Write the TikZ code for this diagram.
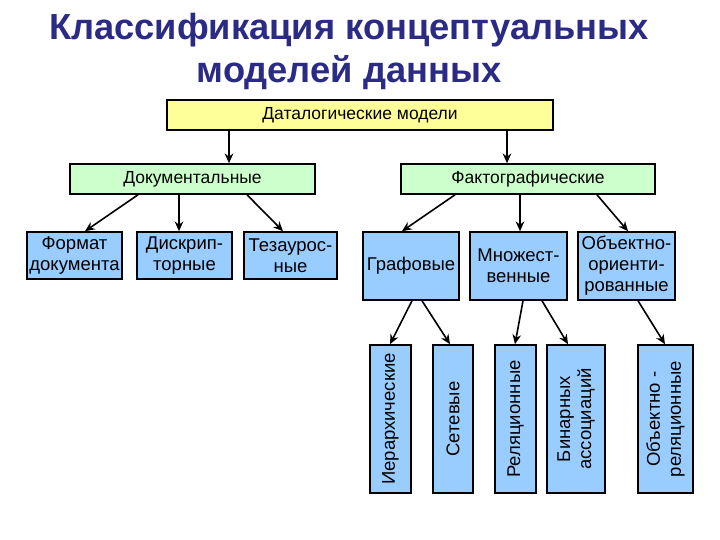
\documentclass[tikz,border=0pt]{standalone}
\usepackage{fontspec}
\setmainfont{Liberation Sans}
\usetikzlibrary{arrows.meta,positioning}
\definecolor{rootyellow}{HTML}{FFFF99}
\definecolor{groupgreen}{HTML}{CCFFCC}
\definecolor{leafblue}{HTML}{99CCFF}
\definecolor{titleblue}{HTML}{2B2B85}
\tikzset{
  box/.style       = {draw=black, line width=1.6pt, inner sep=1pt, align=center},
  rootbox/.style   = {box, fill=rootyellow, font=\fontsize{17.5}{20}\selectfont},
  groupbox/.style  = {box, fill=groupgreen, font=\fontsize{17.5}{20}\selectfont},
  leafbox/.style   = {box, fill=leafblue, font=\fontsize{18.5}{21}\selectfont},
  vbox/.style      = {leafbox, rotate=90},
  sig/.style       = {-{Stealth[length=3.4mm,width=3mm]}, line width=1.6pt},
}

\begin{document}
\begin{tikzpicture}[x=1pt, y=1pt]
  \useasboundingbox (0,0) rectangle (720,-540);
  % title
  \node[align=center, text=titleblue, font=\bfseries\fontsize{36.3}{43}\selectfont] (title) at (349,-51)
    {Классификация концептуальных\\моделей данных};
  % levels
  \node[rootbox, minimum width=386, minimum height=30] (datal) at (360,-115) {Даталогические модели};
  \node[groupbox, minimum width=245, minimum height=30] (doc) at (192.5,-179) {Документальные};
  \node[groupbox, minimum width=254, minimum height=30] (fact) at (528,-179) {Фактографические};
  \node[leafbox, minimum width=95, minimum height=47] (fmt) at (74.5,-255.5) {Формат\\документа};
  \node[leafbox, minimum width=95, minimum height=47] (descr) at (184.5,-255.5) {Дискрип-\\торные};
  \node[leafbox, minimum width=93, minimum height=47] (thes) at (290.5,-255.5) {Тезаурос-\\ные};
  \node[leafbox, minimum width=96, minimum height=68] (graph) at (411,-266) {Графовые};
  \node[leafbox, minimum width=97, minimum height=68] (mult) at (518.5,-266) {Множест-\\венные};
  \node[leafbox, minimum width=97, minimum height=68] (oo) at (626.5,-266) {Объектно-\\ориенти-\\рованные};
  % vertical boxes, east = top of page
  \node[vbox, minimum width=148, minimum height=41] (hier) at (390.5,-419) {Иерархические};
  \node[vbox, minimum width=148, minimum height=40] (net) at (453,-419) {Сетевые};
  \node[vbox, minimum width=148, minimum height=41] (rel) at (515.5,-419) {Реляционные};
  \node[vbox, minimum width=148, minimum height=58] (bin) at (576,-419) {Бинарных\\ассоциаций};
  \node[vbox, minimum width=148, minimum height=55] (orel) at (665.5,-419) {Объектно -\\реляционные};
  % connectors
  \draw[sig] ([xshift=-131pt]datal.south) -- ([xshift=36.5pt]doc.north);
  \draw[sig] ([xshift=147pt]datal.south) -- ([xshift=-21pt]fact.north);
  \draw[sig] ([xshift=-54.5pt]doc.south) -- ([xshift=10.5pt]fmt.north);
  \draw[sig] ([xshift=-13.5pt]doc.south) -- ([xshift=-5.5pt]descr.north);
  \draw[sig] ([xshift=54.5pt]doc.south) -- ([xshift=-7.5pt]thes.north);
  \draw[sig] ([xshift=-73pt]fact.south) -- ([xshift=-9pt]graph.north);
  \draw[sig] ([xshift=-8pt]fact.south) -- ([xshift=1.5pt]mult.north);
  \draw[sig] ([xshift=69pt]fact.south) -- ([xshift=1.5pt]oo.north);
  \draw[sig] ([xshift=1pt]graph.south) -- ([xshift=-0.5pt]hier.east);
  \draw[sig] ([xshift=11pt]graph.south) -- ([xshift=-3pt]net.east);
  \draw[sig] ([xshift=4.5pt]mult.south) -- ([xshift=-0.5pt]rel.east);
  \draw[sig] ([xshift=23.5pt]mult.south) -- ([xshift=-8pt]bin.east);
  \draw[sig] ([xshift=11.5pt]oo.south) -- ([xshift=-0.5pt]orel.east);
\end{tikzpicture}
\end{document}
